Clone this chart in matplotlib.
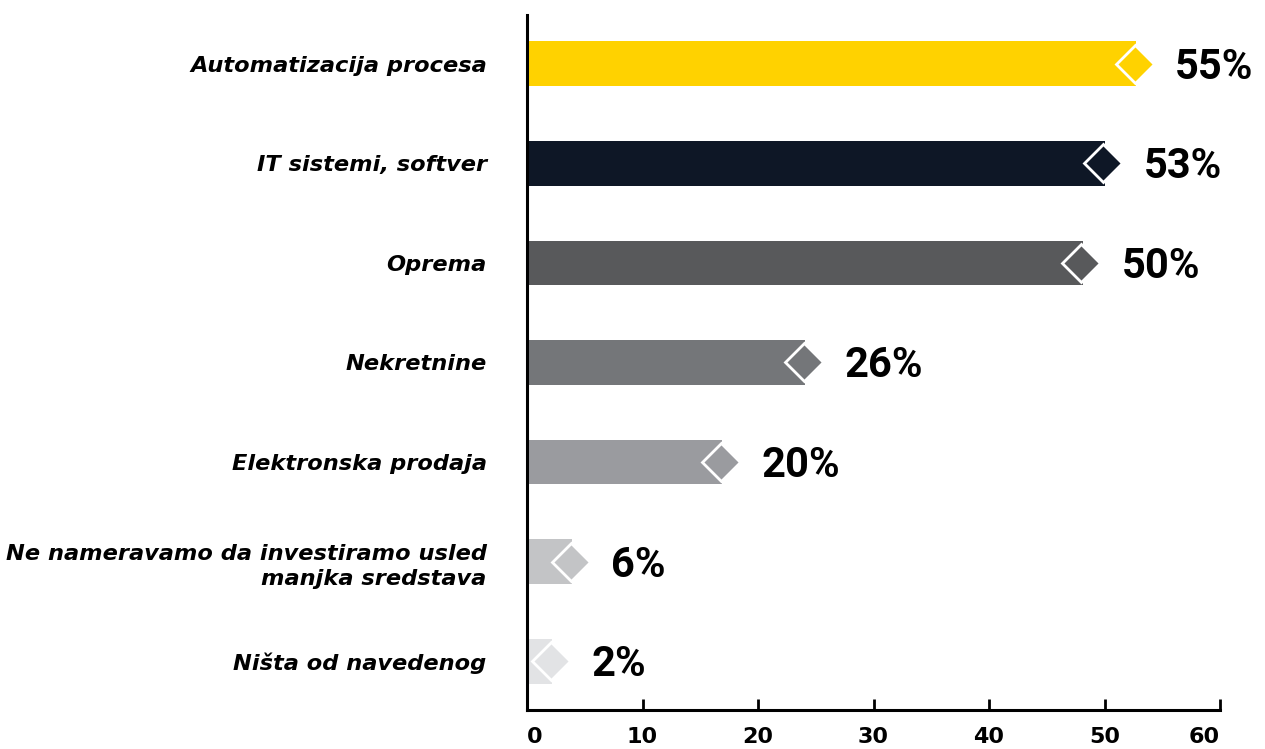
import os
import matplotlib
matplotlib.use("Agg")
import matplotlib.pyplot as plt
from matplotlib import font_manager
from matplotlib.transforms import ScaledTranslation

categories = [
    "Automatizacija procesa",
    "IT sistemi, softver",
    "Oprema",
    "Nekretnine",
    "Elektronska prodaja",
    "Ne nameravamo da investiramo usled\nmanjka sredstava",
    "Ništa od navedenog",
]
bar_values = [52.7, 50.0, 48.1, 24.1, 16.9, 3.9, 2.2]
value_labels = ["55%", "53%", "50%", "26%", "20%", "6%", "2%"]
colors = ["#FFD200", "#0E1726", "#58595B", "#747679", "#9A9B9F", "#C3C4C6", "#E2E3E5"]
xticks = [0, 10, 20, 30, 40, 50, 60]

MPL_TTF = os.path.join(matplotlib.get_data_path(), "fonts", "ttf")


def mpl_font(name, size):
    p = os.path.join(MPL_TTF, name)
    if os.path.exists(p):
        return font_manager.FontProperties(fname=p, size=size)
    return font_manager.FontProperties(family="DejaVu Sans", weight="bold", size=size)


def value_font():
    files = [f.fname for f in font_manager.fontManager.ttflist]
    for want in ["roboto-bold.ttf", "lato-bold.ttf", "opensans-bold.ttf"]:
        for p in files:
            if os.path.basename(p).lower() == want:
                return font_manager.FontProperties(fname=p, size=30)
    for p in files:
        b = os.path.basename(p).lower()
        if b.startswith("roboto") and "bold" in b and "italic" not in b \
                and "condensed" not in b and "black" not in b and "semi" not in b \
                and "extra" not in b:
            return font_manager.FontProperties(fname=p, size=30)
    return mpl_font("DejaVuSans-Bold.ttf", 26)


vfont = value_font()
cat_font = mpl_font("DejaVuSans-BoldOblique.ttf", 16.2)
tick_font = mpl_font("DejaVuSans-Bold.ttf", 16)

fig = plt.figure(figsize=(12.65, 7.49), dpi=100)
ax = fig.add_axes([527 / 1265, 1 - 710 / 749, (1220 - 527) / 1265, (710 - 15) / 749])

ys = list(range(len(categories)))
ax.barh(ys, bar_values, height=0.45, color=colors, zorder=2)
for y, v, c, lab in zip(ys, bar_values, colors, value_labels):
    ax.plot([v - 0.1], [y], marker="D", markersize=19.5, markerfacecolor=c,
            markeredgecolor="white", markeredgewidth=2, zorder=3, clip_on=False)
    ax.annotate(lab, xy=(v, y), xytext=(28, -10.8), textcoords="offset points",
                ha="left", va="baseline", fontproperties=vfont, color="black")

ax.set_xlim(0, 60)
ax.set_ylim(6.49, -0.49)
ax.set_xticks(xticks)
ax.set_xticklabels([str(t) for t in xticks], fontproperties=tick_font)
xl = ax.get_xticklabels()
xl[0].set_ha("left")
xl[-1].set_ha("right")
ax.set_yticks(ys)
ax.set_yticklabels(categories, fontproperties=cat_font, linespacing=1.35)
for i, t in enumerate(ax.get_yticklabels()):
    t.set_multialignment("right")
    dy = 6 / 72 if i == 0 else -2 / 72
    t.set_transform(t.get_transform() + ScaledTranslation(0, dy, fig.dpi_scale_trans))
ax.tick_params(axis="y", length=0, pad=29)
ax.tick_params(axis="x", direction="in", length=8, width=2, pad=12)
for s in ["top", "right"]:
    ax.spines[s].set_visible(False)
for s in ["left", "bottom"]:
    ax.spines[s].set_linewidth(2.2)
    ax.spines[s].set_zorder(4)

fig.savefig("out.png", dpi=100)
